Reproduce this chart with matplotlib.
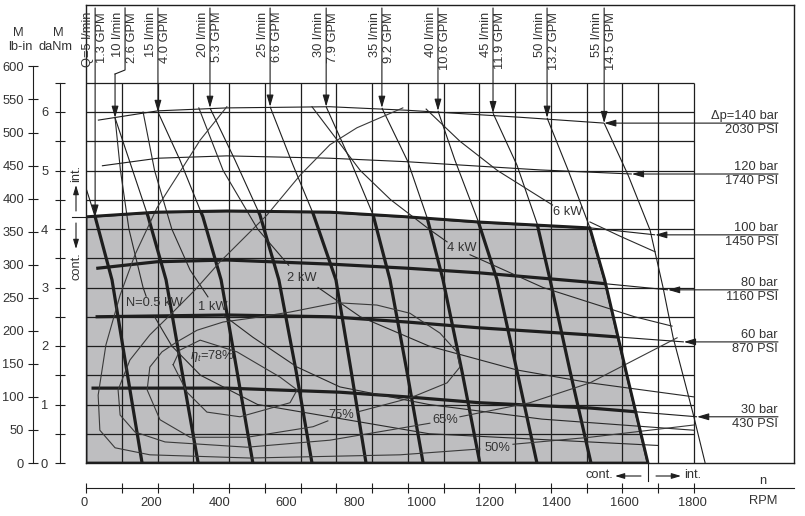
import numpy as np
import matplotlib.pyplot as plt
from matplotlib.patches import Polygon

plt.rcParams['font.family'] = ['Liberation Sans', 'DejaVu Sans']
plt.rcParams['font.size'] = 9.3
plt.rcParams['mathtext.fontset'] = 'custom'
plt.rcParams['mathtext.rm'] = 'Liberation Sans'
plt.rcParams['mathtext.it'] = 'Liberation Sans:italic'

# ---------------- data: speed n [RPM], torque M [daNm] ----------------
# pressure curves
p_bar = [140, 120, 100, 80, 60, 30]
p_psi = [2030, 1740, 1450, 1160, 870, 430]
p_n = [
    [35, 213, 417, 722, 950, 1285, 1534],
    [47, 213, 417, 722, 950, 1344, 1616],
    [0, 210, 417, 722, 950, 1166, 1492, 1685],
    [35, 210, 417, 722, 950, 1166, 1492, 1723],
    [33, 417, 722, 950, 1166, 1492, 1770],
    [21, 417, 752, 950, 1166, 1492, 1809],
]
p_m = [
    [5.86, 6.02, 6.07, 6.09, 6.03, 5.91, 5.81],
    [5.08, 5.21, 5.25, 5.21, 5.15, 5.01, 4.94],
    [4.21, 4.29, 4.31, 4.29, 4.21, 4.12, 4.02, 3.90],
    [3.33, 3.44, 3.47, 3.40, 3.33, 3.25, 3.09, 2.96],
    [2.50, 2.53, 2.50, 2.41, 2.31, 2.19, 2.07],
    [1.28, 1.28, 1.21, 1.13, 1.03, 0.94, 0.79],
]

# flow lines
q_lpm = [5, 10, 15, 20, 25, 30, 35, 40, 45, 50, 55]
q_gpm = ['1.3', '2.6', '4.0', '5.3', '6.6', '7.9', '9.2', '10.6', '11.9', '13.2', '14.5']
q_n = [
    [0, 27, 77, 121, 166],
    [86, 133, 184, 237, 284, 332],
    [213, 278, 346, 400, 447, 494],
    [367, 441, 515, 571, 622, 669],
    [545, 613, 672, 740, 785, 829],
    [711, 782, 850, 900, 950, 998],
    [876, 953, 1010, 1057, 1113, 1166],
    [1042, 1092, 1160, 1217, 1276, 1335],
    [1205, 1276, 1335, 1374, 1433, 1495],
    [1365, 1427, 1492, 1536, 1599, 1664],
    [1534, 1605, 1670, 1708, 1738, 1797, 1833],
]
q_m = [
    [4.70, 4.21, 3.13, 1.57, 0],
    [5.90, 5.09, 4.21, 3.13, 1.57, 0],
    [6.00, 5.18, 4.21, 3.13, 1.57, 0],
    [6.07, 5.18, 4.24, 3.13, 1.57, 0],
    [6.09, 5.09, 4.27, 3.13, 1.57, 0],
    [6.09, 5.18, 4.24, 3.13, 1.57, 0],
    [6.07, 5.15, 4.19, 3.13, 1.57, 0],
    [6.02, 5.18, 4.15, 3.13, 1.57, 0],
    [5.98, 5.09, 4.10, 3.13, 1.57, 0],
    [5.90, 5.01, 4.02, 3.13, 1.57, 0],
    [5.81, 4.92, 3.98, 3.01, 2.15, 0.85, 0],
]

# power curves (two pieces each, broken by the label)
pw_text = ['N=0.5 kW', '1 kW', '2 kW', '4 kW', '6 kW']
pw_lab = [(201, 2.74), (376, 2.67), (639, 3.16), (1113, 3.68), (1427, 4.29)]
pw_n = [
    ([86, 102, 127, 169, 178], [203, 254, 339, 508, 1016, 1693]),
    ([169, 203, 254, 308, 361], [406, 494, 625, 752, 1015, 1350, 1800]),
    ([334, 406, 508, 600], [687, 812, 1015, 1276, 1492, 1800]),
    ([669, 812, 902, 1015, 1069], [1137, 1353, 1624, 1735]),
    ([1007, 1107, 1218, 1381], [1492, 1580, 1685]),
]
pw_m = [
    ([5.9, 5.0, 4.0, 3.0, 2.85], [2.5, 2.0, 1.5, 1.0, 0.5, 0.3]),
    ([6.0, 5.0, 4.0, 3.3, 2.84], [2.53, 2.15, 1.64, 1.30, 1.0, 0.75, 0.56]),
    ([6.07, 5.0, 4.0, 3.38], [3.0, 2.5, 2.0, 1.59, 1.37, 1.13]),
    ([6.09, 5.0, 4.5, 4.0, 3.78], [3.56, 3.0, 2.5, 2.34]),
    ([6.05, 5.5, 5.0, 4.41], [4.12, 3.88, 3.61]),
]

# efficiency curves (two pieces each, broken by the label)
eff_text = [r'$\eta_t$=78%', '75%', '65%', '50%']
eff_lab = [(373, 1.83), (755, 0.82), (1063, 0.74), (1217, 0.26)]
eff_n = [
    ([258, 278, 338, 447, 574, 625, 604, 456, 358, 299, 258], []),
    ([802, 959, 1069, 1107, 1098, 1048, 959, 861, 743, 604, 494, 406, 329, 269,
      225, 189, 181, 219, 308, 477, 672, 716], []),
    ([938, 802, 722, 634, 536, 397, 323, 249, 189, 130, 95, 101, 145, 234, 477,
      722, 1018], [1107, 1314, 1492, 1750]),
    ([417, 338, 210, 145, 101, 59, 36, 41, 86, 189, 486, 930, 1166],
     [1264, 1492, 1800]),
]
eff_m = [
    ([1.68, 1.93, 2.10, 1.90, 1.47, 1.25, 1.03, 0.79, 0.87, 1.21, 1.68], []),
    ([0.87, 1.11, 1.37, 1.64, 1.90, 2.22, 2.56, 2.70, 2.74, 2.58, 2.48, 2.41, 2.27,
      2.07, 1.90, 1.64, 1.25, 0.74, 0.44, 0.44, 0.62, 0.72], []),
    ([6.07, 5.73, 5.44, 4.92, 4.24, 3.44, 2.96, 2.53, 2.19, 1.76, 1.25, 0.82, 0.53,
      0.36, 0.27, 0.39, 0.68], [0.79, 1.03, 1.37, 2.14]),
    ([6.09, 5.52, 4.36, 3.56, 2.87, 2.02, 1.16, 0.56, 0.26, 0.14, 0.085, 0.14, 0.24],
     [0.32, 0.44, 0.65]),
]

rpm_ticks = [0, 200, 400, 600, 800, 1000, 1200, 1400, 1600, 1800]
danm_ticks = [0, 1, 2, 3, 4, 5, 6]
lbin_ticks = list(range(0, 601, 50))

# ---------------- layout ----------------
W, H = 805, 516
RPM_PX = 1800 / 608
DANM_PX = 58.5
LBIN_PER_DANM = 88.507
INK = '#1e1e1e'
TXT = '#333333'


def box(x0, y0, x1, y1):
    return [x0 / W, 1 - y1 / H, (x1 - x0) / W, (y1 - y0) / H]


def fp(x, y):
    return (x, H - y)


fig = plt.figure(figsize=(8.05, 5.16), dpi=100)
ax = fig.add_axes(box(86, 5, 794, 463))
xmax = 708 * RPM_PX
ymax = 458 / DANM_PX
ax.set_xlim(0, xmax)
ax.set_ylim(0, ymax)
ax.set_xticks([])
ax.set_yticks([])
for s in ax.spines.values():
    s.set_linewidth(1.0)
    s.set_color(INK)

grid_n = np.linspace(0, 1800, 18)
grid_m = np.arange(0.5, 6.51, 0.5)
ax.vlines(grid_n[1:], 0, 6.5, color=INK, lw=0.9, zorder=2)
ax.hlines(grid_m, 0, 1800, color=INK, lw=0.9, zorder=2)

# continuous-duty region
top = list(zip(p_n[2][:7], p_m[2][:7]))
side = list(zip(q_n[9][3:], q_m[9][3:]))
poly = Polygon([(0, 0)] + top + side, closed=True, facecolor='#bebec0',
               edgecolor='none', zorder=1)
ax.add_patch(poly)
edge = Polygon([(0, 0)] + top + side, closed=True, facecolor='none',
               edgecolor=INK, lw=2.0, zorder=4)
ax.add_patch(edge)

THIN = 0.8
THICK = 2.3


def curve(n, m, thick_inside=True):
    ax.plot(n, m, color=INK, lw=THIN, zorder=3, solid_capstyle='butt')
    if thick_inside:
        ln, = ax.plot(n, m, color=INK, lw=THICK, zorder=3)
        ln.set_clip_path(poly)


for i in range(len(p_bar)):
    curve(p_n[i], p_m[i], thick_inside=p_bar[i] <= 100)
for i in range(len(q_lpm)):
    curve(q_n[i], q_m[i], thick_inside=q_lpm[i] < 55)

for (na, nb), (ma, mb) in zip(pw_n, pw_m):
    ax.plot(na, ma, color='#2a2a2a', lw=THIN, zorder=3)
    ax.plot(nb, mb, color='#2a2a2a', lw=THIN, zorder=3)
for (na, nb), (ma, mb) in zip(eff_n, eff_m):
    ax.plot(na, ma, color='#3a3a3a', lw=THIN, zorder=3)
    if nb:
        ax.plot(nb, mb, color='#3a3a3a', lw=THIN, zorder=3)

for t, (n, m) in zip(pw_text, pw_lab):
    ax.text(n, m, t, ha='center', va='center', color=TXT, zorder=5)
for t, (n, m) in zip(eff_text, eff_lab):
    ax.text(n, m, t, ha='center', va='center', color=TXT, zorder=5)

arrow = dict(arrowstyle='-|>,head_length=0.75,head_width=0.22', lw=0.8,
             color=INK, shrinkA=0, shrinkB=0)

# flow labels at the top
m_top = (463 - 8) / DANM_PX
tip_idx = [1] + [0] * 10
shaft_dx = [0, 10] + [0] * 9
for i, q in enumerate(q_lpm):
    nt, mt = q_n[i][tip_idx[i]], q_m[i][tip_idx[i]]
    ns = nt + shaft_dx[i] * RPM_PX
    if shaft_dx[i]:
        mk = (463 - 70) / DANM_PX
        mj = (463 - 74) / DANM_PX
        ax.plot([ns, ns, nt], [m_top, mk, mj], color=INK, lw=0.8, clip_on=False)
        ax.annotate('', xy=(nt, mt), xytext=(nt, mj), arrowprops=arrow,
                    annotation_clip=False)
    else:
        ax.annotate('', xy=(nt, mt), xytext=(nt, m_top), arrowprops=arrow,
                    annotation_clip=False)
    first = f'Q={q} l/min' if q == 5 else f'{q} l/min'
    ax.annotate(first, xy=(ns, m_top), xytext=(-7, -4), textcoords='offset pixels',
                rotation=90, ha='center', va='top', color=TXT)
    ax.annotate(f'{q_gpm[i]} GPM', xy=(ns, m_top), xytext=(7, -4),
                textcoords='offset pixels', rotation=90, ha='center', va='top',
                color=TXT)

# pressure labels on the right
n_lab = (778 - 86) * RPM_PX
for i, bar in enumerate(p_bar):
    nt, mt = p_n[i][-1], p_m[i][-1]
    ax.annotate('', xy=(nt, mt), xytext=(n_lab, mt), arrowprops=arrow,
                annotation_clip=False)
    top_txt = f'\u0394p={bar} bar' if bar == 140 else f'{bar} bar'
    ax.annotate(top_txt, xy=(n_lab, mt), xytext=(0, 1), textcoords='offset pixels',
                ha='right', va='bottom', color=TXT)
    ax.annotate(f'{p_psi[i]} PSI', xy=(n_lab, mt), xytext=(0, -1),
                textcoords='offset pixels', ha='right', va='top', color=TXT)

# speed scale: tick marks on the grid, labels every 200 RPM
ax_n = fig.add_axes(box(86, 470, 794, 488))
ax_n.set_xlim(0, xmax)
ax_n.set_ylim(0, 1)
ax_n.patch.set_visible(False)
for s in ['top', 'left', 'right']:
    ax_n.spines[s].set_visible(False)
ax_n.spines['bottom'].set_color(INK)
ax_n.set_yticks([])
ax_n.set_xticks(grid_n, labels=[''] * len(grid_n))
ax_n.tick_params(direction='inout', length=7, width=0.8, color=INK)

ax_t = fig.add_axes(box(86, 470, 794, 488))
ax_t.set_xlim(0, xmax)
ax_t.axis('off')
ax_t.set_ylim(0, 1)
for v in rpm_ticks:
    ax_t.annotate(str(v), xy=(v, 0), xytext=(-2, -15), textcoords='offset pixels',
                  ha='center', va='center', color=TXT, annotation_clip=False)

# torque scales
ax_d = fig.add_axes(box(60, 5, 70, 463))
ax_d.set_ylim(0, ymax)
ax_d.patch.set_visible(False)
for s in ['top', 'bottom', 'right']:
    ax_d.spines[s].set_visible(False)
ax_d.spines['left'].set_bounds(0, 6.5)
ax_d.spines['left'].set_color(INK)
ax_d.set_xticks([])
ax_d.set_yticks(danm_ticks, labels=[str(v) for v in danm_ticks])
ax_d.set_yticks(grid_m, minor=True)
ax_d.tick_params(which='both', direction='inout', length=7, width=0.8, color=INK,
                 pad=5, labelcolor=TXT)

ax_l = fig.add_axes(box(33, 5, 43, 463))
ax_l.set_ylim(0, ymax * LBIN_PER_DANM)
ax_l.patch.set_visible(False)
for s in ['top', 'bottom', 'right']:
    ax_l.spines[s].set_visible(False)
ax_l.spines['left'].set_bounds(0, 600)
ax_l.spines['left'].set_color(INK)
ax_l.set_xticks([])
ax_l.set_yticks(lbin_ticks, labels=[str(v) for v in lbin_ticks])
ax_l.tick_params(direction='inout', length=7, width=0.8, color=INK, pad=3,
                 labelcolor=TXT)

fig.text(18 / W, 1 - 33 / H, 'M', ha='center', va='center', color=TXT)
fig.text(20 / W, 1 - 47 / H, 'lb-in', ha='center', va='center', color=TXT)
fig.text(58 / W, 1 - 33 / H, 'M', ha='center', va='center', color=TXT)
fig.text(55 / W, 1 - 47 / H, 'daNm', ha='center', va='center', color=TXT)
fig.text(763 / W, 1 - 481 / H, 'n', ha='center', va='center', color=TXT)
fig.text(763 / W, 1 - 501 / H, 'RPM', ha='center', va='center', color=TXT)

# cont./int. markers
small = dict(arrowstyle='-|>,head_length=0.6,head_width=0.18', lw=0.8, color=INK,
             shrinkA=0, shrinkB=0)
fig.text(76 / W, 1 - 173 / H, 'int.', rotation=90, ha='center', va='center', color=TXT)
fig.text(76 / W, 1 - 266 / H, 'cont.', rotation=90, ha='center', va='center', color=TXT)
ax.annotate('', xy=fp(76, 185), xytext=fp(76, 211), xycoords='figure pixels',
            textcoords='figure pixels', arrowprops=small)
ax.annotate('', xy=fp(76, 249), xytext=fp(76, 223), xycoords='figure pixels',
            textcoords='figure pixels', arrowprops=small)
fig.add_artist(plt.Line2D([72 / W, 86 / W], [1 - 217 / H] * 2, color=INK, lw=0.8))

n_div = q_n[9][-1]
ax.plot([n_div, n_div], [0, -18 / DANM_PX], color=INK, lw=0.8, clip_on=False)
fig.text(599 / W, 1 - 475 / H, 'cont.', ha='center', va='center', color=TXT)
fig.text(693 / W, 1 - 475 / H, 'int.', ha='center', va='center', color=TXT)
ax.annotate('', xy=fp(615, 476), xytext=fp(641, 476), xycoords='figure pixels',
            textcoords='figure pixels', arrowprops=small)
ax.annotate('', xy=fp(681, 476), xytext=fp(656, 476), xycoords='figure pixels',
            textcoords='figure pixels', arrowprops=small)

fig.savefig('out.png', dpi=100)
